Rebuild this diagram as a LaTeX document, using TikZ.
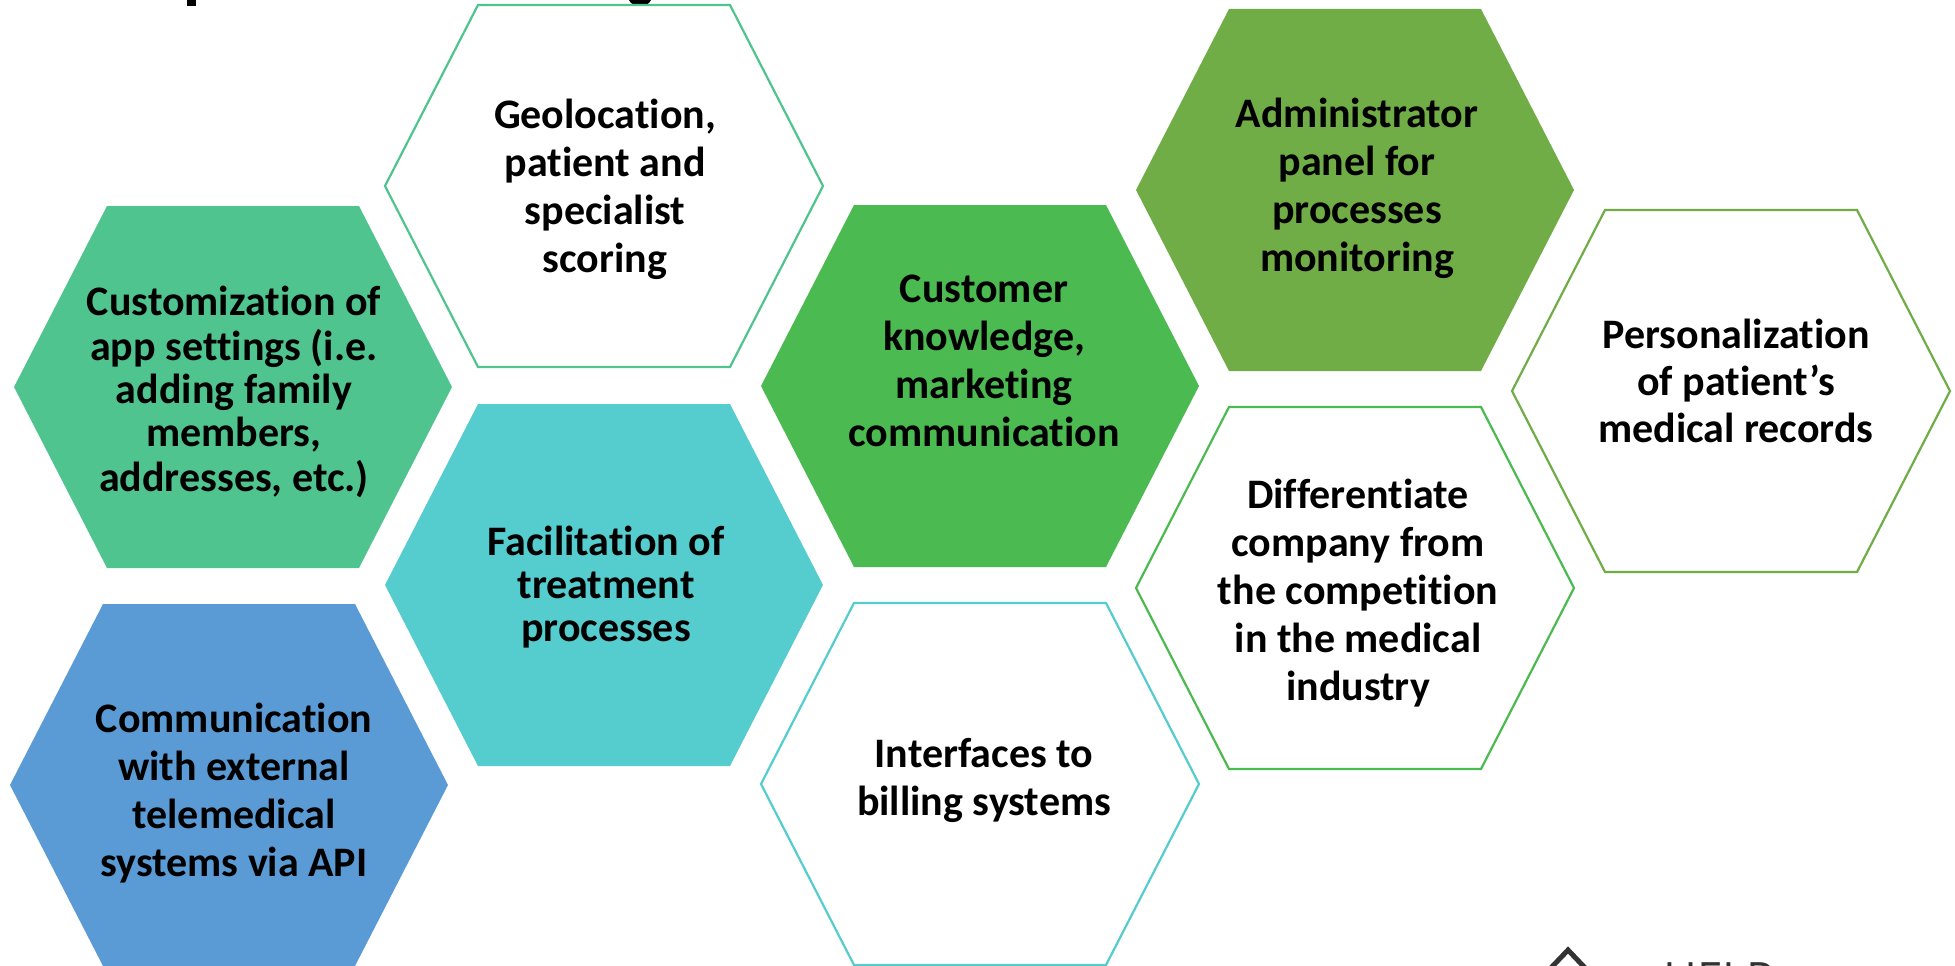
\documentclass[tikz,border=0pt]{standalone}
\usepackage{fontspec}
\setmainfont{Carlito}[Ligatures={NoCommon}]
\newfontfamily\logofont{Open Sans}
\definecolor{hexteal}{RGB}{80,196,142}
\definecolor{hexcyan}{RGB}{85,204,205}
\definecolor{hexgreen}{RGB}{75,186,80}
\definecolor{hexolive}{RGB}{112,173,71}
\definecolor{hexblue}{RGB}{91,155,213}
\newcommand\hexshape[2]{({#1-219},{#2}) -- ({#1-126},{#2-181}) -- ({#1+126},{#2-181}) -- ({#1+219},{#2}) -- ({#1+126},{#2+181}) -- ({#1-126},{#2+181}) -- cycle}
\newcommand\hexfont[1]{\fontsize{42}{#1}\selectfont\bfseries}
\tikzset{
  hexoutline/.style={draw=#1, line width=2.2pt, line join=miter, fill=white},
  hexsolid/.style={fill=#1, draw=none},
  hextext/.style={anchor=north, inner sep=0pt, align=center, text=black,
    font={\hexfont{#1}}},
}
\begin{document}
\spaceskip=6.7pt plus 2pt\relax
\begin{tikzpicture}[x=1pt,y=-1pt]
\useasboundingbox (0,0) rectangle (1955,966);
\fill[white] (0,0) rectangle (1955,966);

% title fragments (cropped)
\fill[black] (187,0) rectangle (196,6);
\fill[black] (629,0) .. controls (632,8) and (648,8) .. (651,0) -- cycle;

% hexagons
\path[hexsolid=hexteal] \hexshape{233}{387};
\path[hexsolid=hexblue] \hexshape{229}{785};
\path[hexoutline=hexteal] \hexshape{604}{186};
\path[hexsolid=hexcyan] \hexshape{604}{585};
\path[hexsolid=hexgreen] \hexshape{980}{386};
\path[hexoutline=hexcyan] \hexshape{980}{784};
\path[hexsolid=hexolive] \hexshape{1355}{190};
\path[hexoutline=hexgreen] \hexshape{1355}{588};
\path[hexoutline=hexolive] \hexshape{1731}{391};

% texts (anchor north = first baseline - 0.7*linespacing)
\node[hextext=43] (custom) at (234,284.9) {\strut Customization of\\\strut app settings (i.e.\\\strut adding family\\\strut members,\\\strut addresses, etc.)};
\node[hextext=48] (comm) at (234,698.4) {\strut Communication\\\strut with external\\\strut telemedical\\\strut systems via API};
\node[hextext=48] (geo) at (605,94.4) {\strut Geolocation,\\\strut patient and\\\strut specialist\\\strut scoring};
\node[hextext=43] (facil) at (606,524.9) {\strut Facilitation of\\\strut treatment\\\strut processes};
\node[hextext=48] (cust) at (984,268.4) {\strut Customer\\\strut knowledge,\\\strut marketing\\\strut communication};
\node[hextext=48] (billing) at (984,733.4) {\strut Interfaces to\\\strut billing systems};
\node[hextext=48] (admin) at (1357,93.4) {\strut Administrator\\\strut panel for\\\strut processes\\\strut monitoring};
\node[hextext=48] (diff) at (1358,474.4) {\strut Differentiate\\\strut company from\\\strut the competition\\\strut in the medical\\\strut industry};
\node[hextext=47] (person) at (1736,315.1) {\strut Personalization\\\strut of patient’s\\\strut medical records};

% logo (cropped at bottom, as in the reference)
\coordinate (chevL) at (1547,972);
\coordinate (chevT) at (1568,950);
\coordinate (chevR) at (1589,972);
\draw[line width=5pt, color=black!80, line join=miter] (chevL) -- (chevT) -- (chevR);
\node[anchor=north west, inner sep=0pt, text=black!80, font=\logofont\fontsize{46}{50}\selectfont] (logo) at (1663,962) {HELP};
\end{tikzpicture}
\end{document}
